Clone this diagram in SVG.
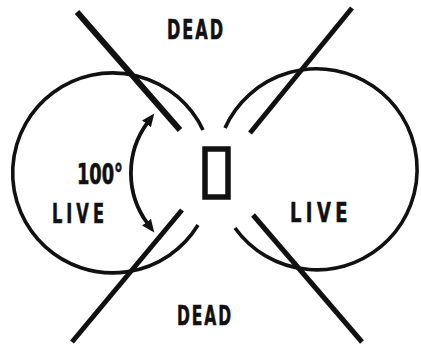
<svg xmlns="http://www.w3.org/2000/svg" width="421" height="345" viewBox="0 0 421 345">
<style>
.ln{stroke:#111;fill:none;stroke-linecap:butt}
.lbl{font-family:"DejaVu Sans","Liberation Sans",sans-serif;font-stretch:condensed;font-weight:bold;fill:#111;stroke:#111;stroke-width:0.6}
</style>
<defs>
<marker id="ah" markerUnits="userSpaceOnUse" markerWidth="16" markerHeight="14" viewBox="0 -7 16 14" refX="2" refY="0" orient="auto-start-reverse">
<path d="M0,-5.5 L13,0 L0,5.5 z" fill="#111"/>
</marker>
</defs>
<rect width="421" height="345" fill="#fff"/>
<g id="connectors">
<path class="ln" style="stroke-width:6" d="M77,12 L180,130"/>
<path class="ln" style="stroke-width:5" d="M352,8 L250,133"/>
<path class="ln" style="stroke-width:5" d="M72,342 L182,210"/>
<path class="ln" style="stroke-width:5" d="M362,342 L253,215"/>
<path class="ln" style="stroke-width:3.8" d="M147.7,122.3 A85,85 0 0 0 147.7,223.7" marker-start="url(#ah)" marker-end="url(#ah)"/>
</g>
<g id="lobe-left">
<path class="ln" style="stroke-width:3.6" d="M203,130 A100,100 0 1 0 198,225"/>
</g>
<g id="lobe-right">
<path class="ln" style="stroke-width:3.6" d="M225,128 A100.5,100.5 0 1 1 235,228"/>
</g>
<g id="antenna">
<rect x="205" y="149" width="23" height="48" fill="none" stroke="#111" stroke-width="5.5"/>
</g>
<g id="labels">
<text class="lbl" x="167" y="39" font-size="27" letter-spacing="3" textLength="58" lengthAdjust="spacingAndGlyphs">DEAD</text>
<text class="lbl" x="177" y="325" font-size="27" letter-spacing="3" textLength="56" lengthAdjust="spacingAndGlyphs">DEAD</text>
<text class="lbl" x="52" y="223" font-size="27" letter-spacing="6" textLength="56" lengthAdjust="spacingAndGlyphs">LIVE</text>
<text class="lbl" x="290" y="222" font-size="27" letter-spacing="6" textLength="62" lengthAdjust="spacingAndGlyphs">LIVE</text>
<text class="lbl" x="77" y="184" font-size="28" textLength="46" lengthAdjust="spacingAndGlyphs">100°</text>
</g>
</svg>
